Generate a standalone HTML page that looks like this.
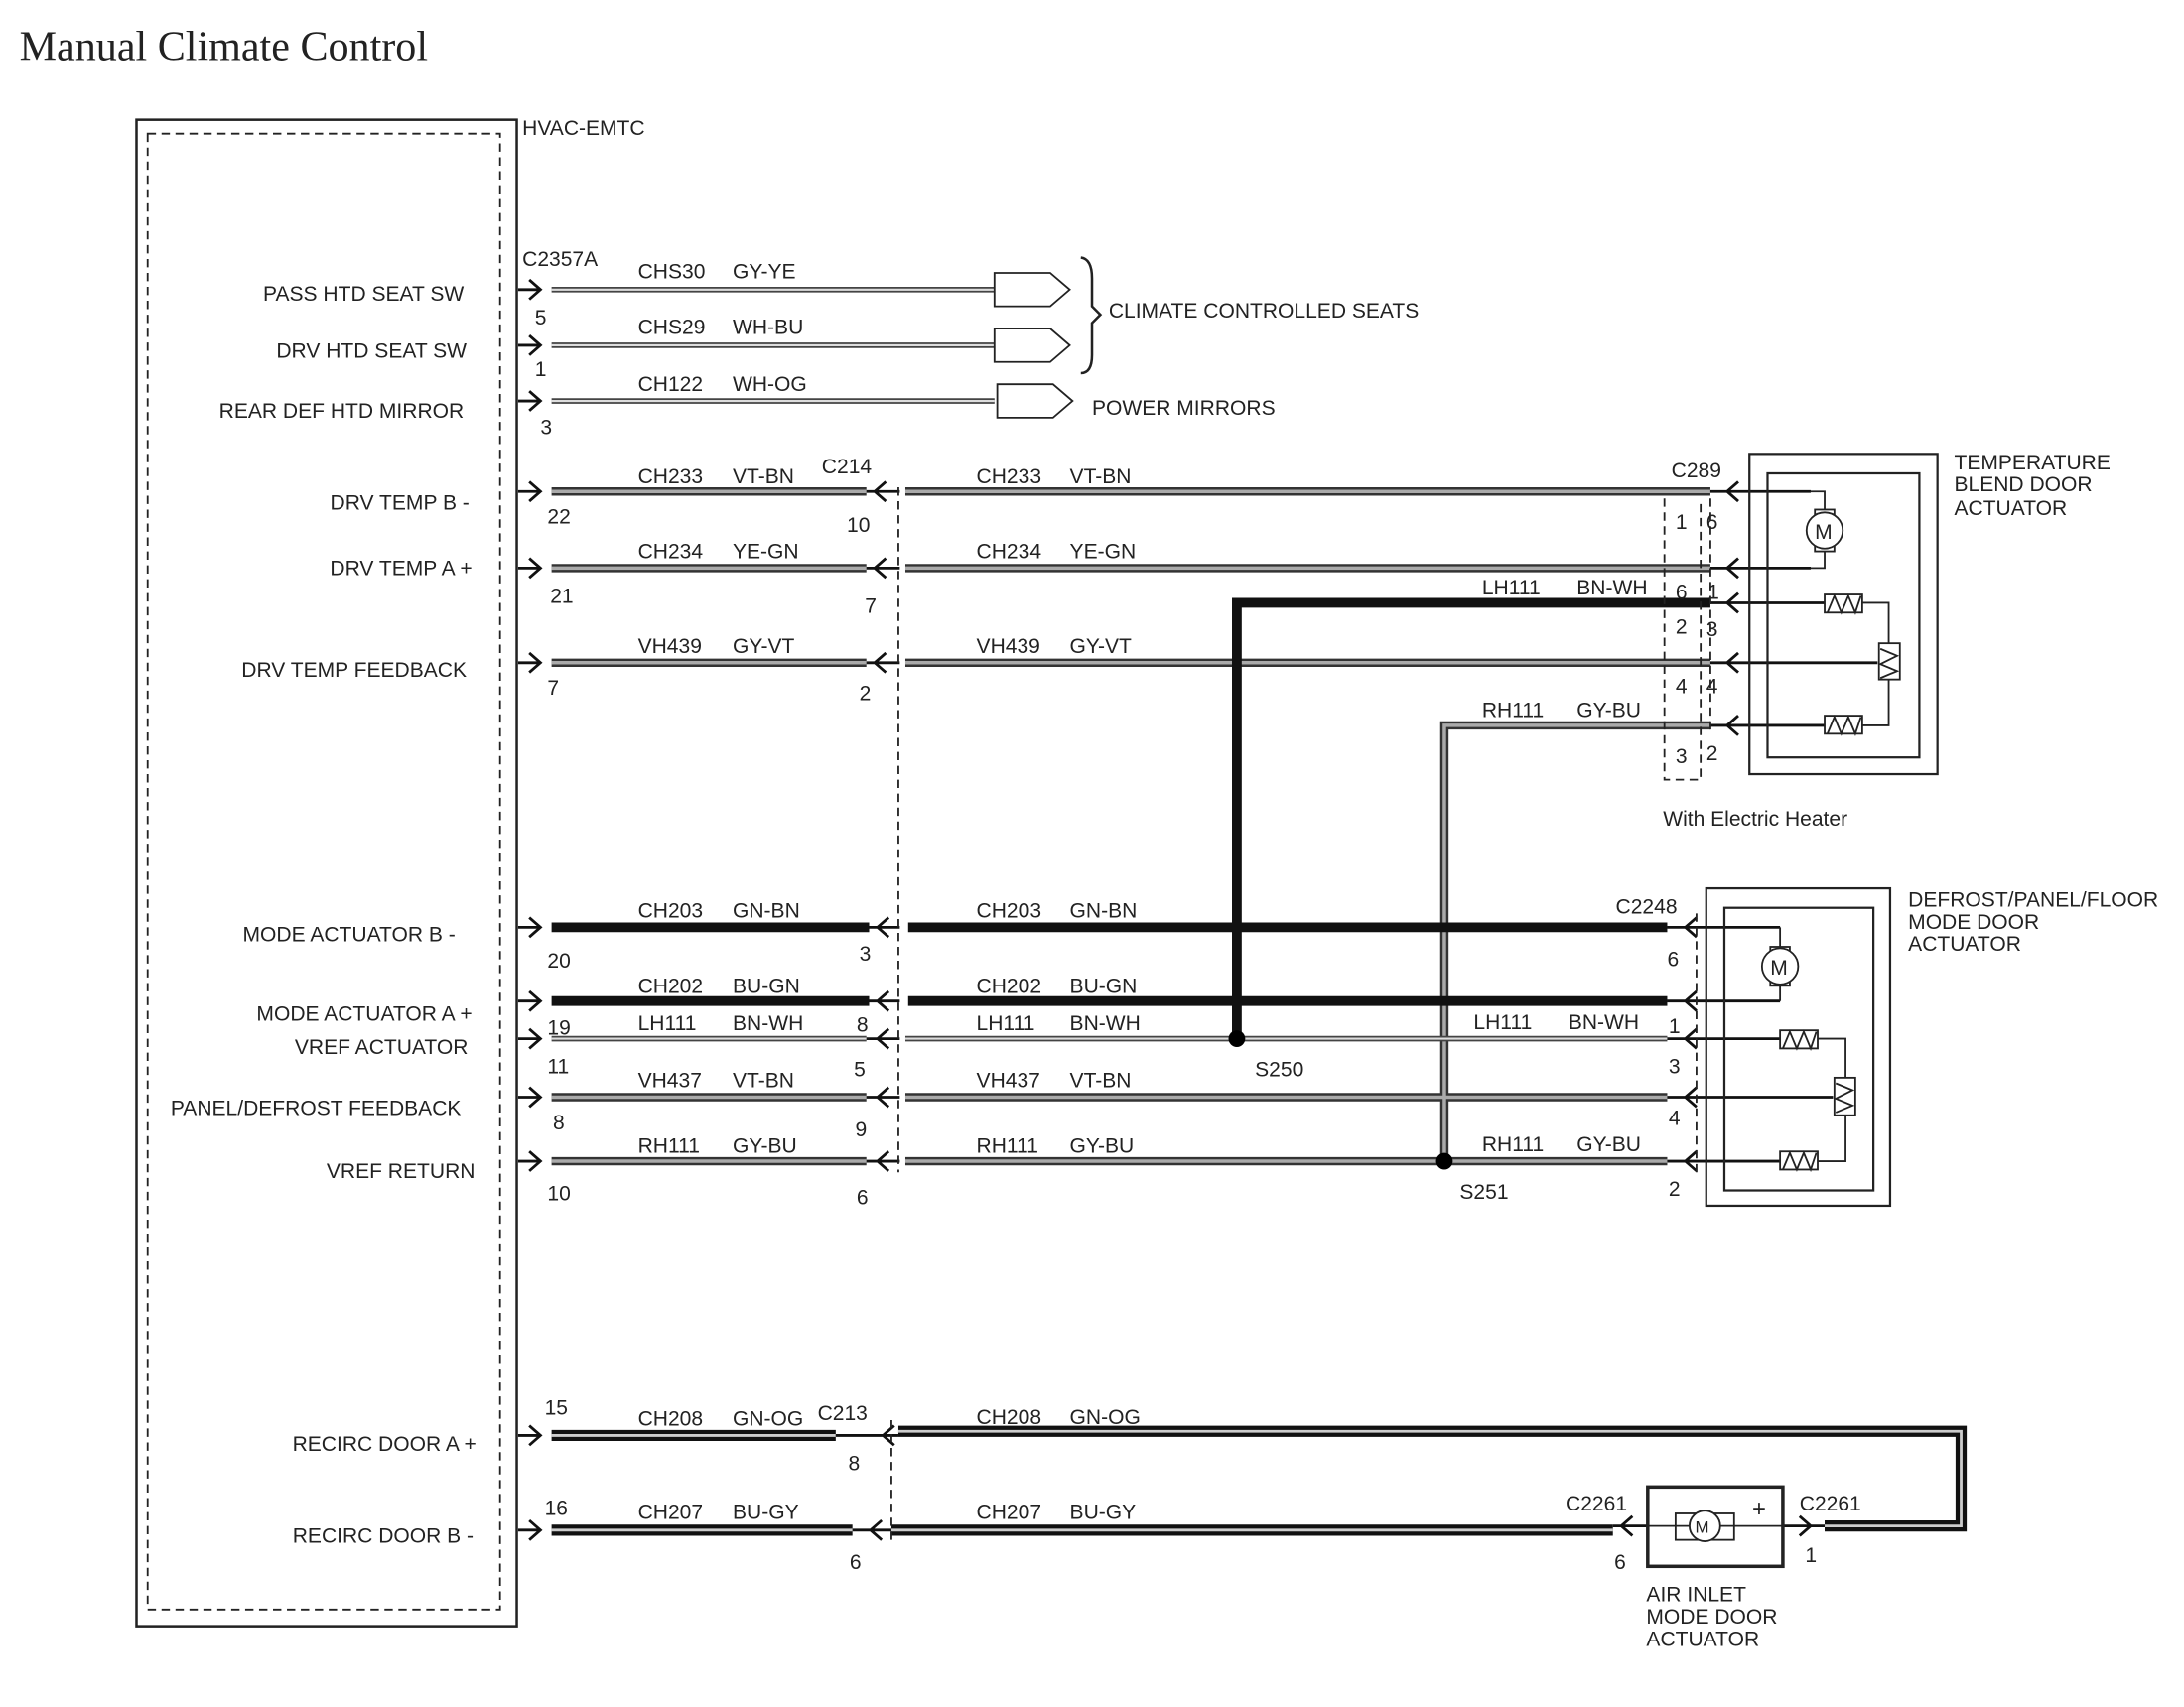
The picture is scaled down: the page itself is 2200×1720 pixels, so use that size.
<!DOCTYPE html>
<html><head><meta charset="utf-8"><style>
html,body{margin:0;padding:0;background:#fff}
svg{display:block}
text{font-family:"Liberation Sans",sans-serif;font-size:15px;fill:#222}
.w1{stroke:#333;stroke-width:6;fill:none}
.w2{stroke:#aaa;stroke-width:2.5;fill:none}
.t1{stroke:#444;stroke-width:4;fill:none}
.t2{stroke:#ddd;stroke-width:1.5;fill:none}
.bk{stroke:#111;stroke-width:7;fill:none}
.ln{stroke:#222;stroke-width:1.3;fill:none}
.ar{stroke:#111;stroke-width:2;fill:none}
.ds{stroke:#222;stroke-width:1.3;fill:none;stroke-dasharray:6,4}
</style></head><body>
<svg width="2200" height="1720" viewBox="0 0 1568 1226" preserveAspectRatio="none" xmlns="http://www.w3.org/2000/svg">
<text x="14" y="43" style="font-family:'Liberation Serif',serif;font-size:30px">Manual Climate Control</text>
<rect x="98" y="86" width="273" height="1082" class="ln" style="stroke-width:1.8"/>
<rect x="106" y="96" width="253" height="1060" class="ds"/>
<text x="375" y="97">HVAC-EMTC</text>
<text x="375" y="191">C2357A</text>
<g text-anchor="end">
<text x="333" y="216">PASS HTD SEAT SW</text>
<text x="335" y="257">DRV HTD SEAT SW</text>
<text x="333" y="300">REAR DEF HTD MIRROR</text>
<text x="337" y="366">DRV TEMP B -</text>
<text x="339" y="413">DRV TEMP A +</text>
<text x="335" y="486">DRV TEMP FEEDBACK</text>
<text x="327" y="676">MODE ACTUATOR B -</text>
<text x="339" y="733">MODE ACTUATOR A +</text>
<text x="336" y="757">VREF ACTUATOR</text>
<text x="331" y="801">PANEL/DEFROST FEEDBACK</text>
<text x="341" y="846">VREF RETURN</text>
<text x="342" y="1042">RECIRC DOOR A +</text>
<text x="340" y="1108">RECIRC DOOR B -</text>
</g>
<g class="ar">
<path d="M372 208H388M380 201L388 208L380 215"/><path d="M372 248H388M380 241L388 248L380 255"/><path d="M372 288H388M380 281L388 288L380 295"/>
<path d="M372 353H388M380 346L388 353L380 360"/><path d="M372 408H388M380 401L388 408L380 415"/><path d="M372 476H388M380 469L388 476L380 483"/>
<path d="M372 666H388M380 659L388 666L380 673"/><path d="M372 719H388M380 712L388 719L380 726"/><path d="M372 746H388M380 739L388 746L380 753"/>
<path d="M372 788H388M380 781L388 788L380 795"/><path d="M372 834H388M380 827L388 834L380 841"/>
<path d="M372 1031H388M380 1024L388 1031L380 1038"/><path d="M372 1099H388M380 1092L388 1099L380 1106"/>
</g>
<path class="t1" d="M396 208H714M396 248H714M396 288H714"/><path class="t2" d="M396 208H714M396 248H714M396 288H714"/>
<path class="ln" d="M714 196H754L768 208L754 220H714Z M714 236H754L768 248L754 260H714Z M716 276H756L770 288L756 300H716Z"/>
<path class="ln" style="stroke-width:1.8" d="M776 185Q784 186 784 200V220L790 226L784 232V255Q784 268 776 268"/>
<text x="458" y="200">CHS30</text><text x="526" y="200">GY-YE</text>
<text x="458" y="240">CHS29</text><text x="526" y="240">WH-BU</text>
<text x="458" y="281">CH122</text><text x="526" y="281">WH-OG</text>
<text x="384" y="233">5</text><text x="384" y="270">1</text><text x="388" y="312">3</text>
<text x="796" y="228">CLIMATE CONTROLLED SEATS</text><text x="784" y="298">POWER MIRRORS</text>
<g>
<path class="w1" d="M396 353H622M396 408H622M396 476H622M396 788H622M396 834H622M650 353H1228M650 408H1228M650 476H1228M650 788H1197M650 834H1197M1228 521H1037V834"/>
<path class="w2" d="M396 353H622M396 408H622M396 476H622M396 788H622M396 834H622M650 353H1228M650 408H1228M650 476H1228M650 788H1197M650 834H1197M1228 521H1037V834"/>
<path class="t1" d="M396 746H622M650 746H1197"/><path class="t2" d="M396 746H622M650 746H1197"/>
<path class="bk" d="M396 666H624M652 666H1197M396 719H624M652 719H1197M1228 433H888V746"/>
<path class="bk" style="stroke:#111;stroke-width:8" d="M396 1031H600M645 1028H1408V1096H1310M396 1099H612M640 1099H1158"/>
<path style="stroke:#ccc;stroke-width:2;fill:none" d="M396 1031H600M645 1028H1408V1096H1310M396 1099H612M640 1099H1158"/>
</g>
<circle cx="888" cy="746" r="6" fill="#000"/><circle cx="1037" cy="834" r="6" fill="#000"/>
<g class="ar">
<path d="M622 353H646M636 346L628 353L636 360"/><path d="M622 408H646M636 401L628 408L636 415"/><path d="M622 476H646M636 469L628 476L636 483"/>
<path d="M624 666H646M638 659L630 666L638 673"/><path d="M624 719H646M638 712L630 719L638 726"/><path d="M622 746H646M638 739L630 746L638 753"/>
<path d="M622 788H646M638 781L630 788L638 795"/><path d="M622 834H646M638 827L630 834L638 841"/>
<path d="M600 1031H645M642 1024L634 1031L642 1038"/><path d="M612 1099H640M633 1092L625 1099L633 1106"/>
<path d="M1228 353H1300M1248 346L1240 353L1248 360"/><path d="M1228 408H1300M1248 401L1240 408L1248 415"/><path d="M1228 433H1310M1248 426L1240 433L1248 440"/>
<path d="M1228 476H1348M1248 469L1240 476L1248 483"/><path d="M1228 521H1310M1248 514L1240 521L1248 528"/>
<path d="M1197 666H1278M1218 659L1210 666L1218 673"/><path d="M1197 719H1278M1218 712L1210 719L1218 726"/><path d="M1197 746H1278M1218 739L1210 746L1218 753"/>
<path d="M1197 788H1316M1218 781L1210 788L1218 795"/><path d="M1197 834H1278M1218 827L1210 834L1218 841"/>
<path d="M1158 1096H1183M1172 1089L1164 1096L1172 1103"/><path d="M1280 1096H1310M1292 1089L1300 1096L1292 1103"/>
</g>
<path class="ds" d="M645 350V842M640 1020V1106M1195 358V560H1221V358M1228 358V526M1218 656V842"/>
<text x="590" y="340">C214</text><text x="1200" y="343">C289</text><text x="1160" y="656">C2248</text><text x="587" y="1020">C213</text>
<text x="1124" y="1085">C2261</text><text x="1292" y="1085">C2261</text>
<g>
<text x="458" y="347">CH233</text><text x="526" y="347">VT-BN</text><text x="701" y="347">CH233</text><text x="768" y="347">VT-BN</text>
<text x="458" y="401">CH234</text><text x="526" y="401">YE-GN</text><text x="701" y="401">CH234</text><text x="768" y="401">YE-GN</text>
<text x="458" y="469">VH439</text><text x="526" y="469">GY-VT</text><text x="701" y="469">VH439</text><text x="768" y="469">GY-VT</text>
<text x="1064" y="427">LH111</text><text x="1132" y="427">BN-WH</text><text x="1064" y="515">RH111</text><text x="1132" y="515">GY-BU</text>
<text x="458" y="659">CH203</text><text x="526" y="659">GN-BN</text><text x="701" y="659">CH203</text><text x="768" y="659">GN-BN</text>
<text x="458" y="713">CH202</text><text x="526" y="713">BU-GN</text><text x="701" y="713">CH202</text><text x="768" y="713">BU-GN</text>
<text x="458" y="740">LH111</text><text x="526" y="740">BN-WH</text><text x="701" y="740">LH111</text><text x="768" y="740">BN-WH</text>
<text x="1058" y="739">LH111</text><text x="1126" y="739">BN-WH</text>
<text x="458" y="781">VH437</text><text x="526" y="781">VT-BN</text><text x="701" y="781">VH437</text><text x="768" y="781">VT-BN</text>
<text x="458" y="828">RH111</text><text x="526" y="828">GY-BU</text><text x="701" y="828">RH111</text><text x="768" y="828">GY-BU</text>
<text x="1064" y="827">RH111</text><text x="1132" y="827">GY-BU</text>
<text x="458" y="1024">CH208</text><text x="526" y="1024">GN-OG</text><text x="701" y="1023">CH208</text><text x="768" y="1023">GN-OG</text>
<text x="458" y="1091">CH207</text><text x="526" y="1091">BU-GY</text><text x="701" y="1091">CH207</text><text x="768" y="1091">BU-GY</text>
</g>
<g>
<text x="393" y="376">22</text><text x="608" y="382">10</text><text x="395" y="433">21</text><text x="621" y="440">7</text>
<text x="393" y="499">7</text><text x="617" y="503">2</text>
<text x="393" y="695">20</text><text x="617" y="690">3</text><text x="393" y="743">19</text><text x="615" y="741">8</text>
<text x="393" y="771">11</text><text x="613" y="773">5</text><text x="397" y="811">8</text><text x="614" y="816">9</text>
<text x="393" y="862">10</text><text x="615" y="865">6</text>
<text x="391" y="1016">15</text><text x="609" y="1056">8</text><text x="391" y="1088">16</text><text x="610" y="1127">6</text>
<text x="1203" y="380">1</text><text x="1225" y="380">6</text><text x="1203" y="430">6</text><text x="1226" y="430">1</text>
<text x="1203" y="455">2</text><text x="1225" y="457">3</text><text x="1203" y="498">4</text><text x="1225" y="498">4</text>
<text x="1203" y="548">3</text><text x="1225" y="546">2</text>
<text x="1197" y="694">6</text><text x="1198" y="742">1</text><text x="1198" y="771">3</text><text x="1198" y="808">4</text><text x="1198" y="859">2</text>
<text x="1159" y="1127">6</text><text x="1296" y="1122">1</text>
<text x="901" y="773">S250</text><text x="1048" y="861">S251</text>
</g>
<rect x="1256" y="326" width="135" height="230" class="ln" style="stroke-width:1.6"/>
<rect x="1269" y="340" width="109" height="204" class="ln" style="stroke-width:1.6"/>
<path class="ln" d="M1300 353H1310V366M1310 396V408H1300"/>
<rect x="1303" y="366" width="14" height="30" class="ln"/><circle cx="1310" cy="381" r="13" fill="#fff" stroke="#222" stroke-width="1.3"/>
<text x="1303" y="387">M</text>
<rect x="1310" y="427" width="27" height="13" fill="#fff" class="ln"/><path class="ln" d="M1312 440L1317 428L1322 440L1327 428L1332 440L1336 428"/>
<rect x="1310" y="514" width="27" height="13" fill="#fff" class="ln"/><path class="ln" d="M1312 527L1317 515L1322 527L1327 515L1332 527L1336 515"/>
<path class="ln" d="M1337 433H1356V462M1356 488V521H1337"/>
<rect x="1349" y="462" width="15" height="26" fill="#fff" class="ln"/><path class="ln" d="M1350 466L1362 471L1350 477L1362 482L1350 487"/>
<text x="1403" y="337">TEMPERATURE</text><text x="1403" y="353">BLEND DOOR</text><text x="1403" y="370">ACTUATOR</text>
<text x="1194" y="593">With Electric Heater</text>
<rect x="1225" y="638" width="132" height="228" class="ln" style="stroke-width:1.6"/>
<rect x="1238" y="652" width="107" height="203" class="ln" style="stroke-width:1.6"/>
<path class="ln" d="M1278 666V680M1278 708V719"/>
<rect x="1271" y="680" width="14" height="28" class="ln"/><circle cx="1278" cy="694" r="13" fill="#fff" stroke="#222" stroke-width="1.3"/>
<text x="1271" y="700">M</text>
<rect x="1278" y="740" width="27" height="13" fill="#fff" class="ln"/><path class="ln" d="M1280 753L1285 741L1290 753L1295 741L1300 753L1304 741"/>
<rect x="1278" y="827" width="27" height="13" fill="#fff" class="ln"/><path class="ln" d="M1280 840L1285 828L1290 840L1295 828L1300 840L1304 828"/>
<path class="ln" d="M1305 746H1325V774M1325 801V834H1305"/>
<rect x="1317" y="774" width="15" height="27" fill="#fff" class="ln"/><path class="ln" d="M1318 778L1330 783L1318 789L1330 794L1318 799"/>
<text x="1370" y="651">DEFROST/PANEL/FLOOR</text><text x="1370" y="667">MODE DOOR</text><text x="1370" y="683">ACTUATOR</text>
<rect x="1183" y="1068" width="97" height="57" class="ln" style="stroke-width:2.5"/>
<path class="ln" d="M1183 1096H1280"/>
<rect x="1203" y="1087" width="42" height="19" fill="#fff" class="ln"/><circle cx="1224" cy="1096" r="11" fill="#fff" stroke="#222" stroke-width="1.3"/>
<text x="1217" y="1101" style="font-size:12px">M</text><text x="1258" y="1089" style="font-size:17px">+</text>
<text x="1182" y="1150">AIR INLET</text><text x="1182" y="1166">MODE DOOR</text><text x="1182" y="1182">ACTUATOR</text>
</svg>
</body></html>
